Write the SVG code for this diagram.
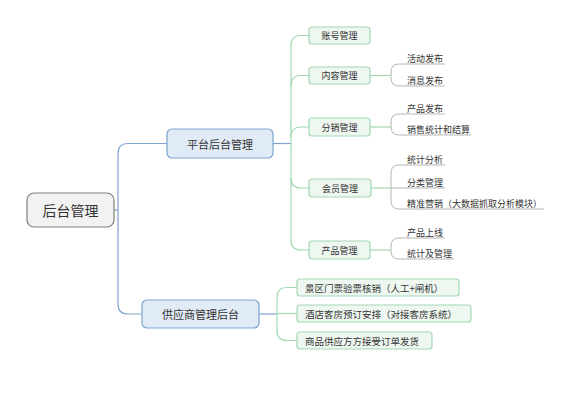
<svg xmlns="http://www.w3.org/2000/svg" width="563" height="398" viewBox="0 0 563 398">
<style>
text{font-family:"Noto Sans CJK SC","Liberation Sans",sans-serif;fill:#333;dominant-baseline:central}
.c{text-anchor:middle}
.root{fill:#f2f2f2;stroke:#7f7f7f;stroke-width:1.2}
.l1{fill:#e1ebf6;stroke:#7ea3cf;stroke-width:1.2}
.l2{fill:#eef7f0;stroke:#a3d8b3;stroke-width:1.2}
.cb{fill:none;stroke:#7ea3cf;stroke-width:1.2}
.cg{fill:none;stroke:#a3d8b3;stroke-width:1.2}
.cy{fill:none;stroke:#b5b5b5;stroke-width:1}
.t14{font-size:14px}.t11{font-size:11px}.t9{font-size:9px}.t95{font-size:9.5px}
</style>
<rect width="563" height="398" fill="#fff"/>
<g id="connectors">
<path class="cb" d="M114,210H118"/>
<path class="cb" d="M167,143.5H128Q118,143.5 118,153.5V304Q118,314 128,314H142"/>
<path class="cb" d="M273,143.5H291"/>
<path class="cb" d="M259,314H277"/>
<path class="cg" d="M309,35.5H301Q291,35.5 291,45.5V240Q291,250 301,250H309"/>
<path class="cg" d="M309,75.5H301Q291,75.5 291,85.5"/>
<path class="cg" d="M309,127H301Q291,127 291,137"/>
<path class="cg" d="M309,188H301Q291,188 291,178"/>
<path class="cg" d="M297,287.5H287Q277,287.5 277,297.5V330.5Q277,340.5 287,340.5H297"/>
<path class="cg" d="M277,313.5H297"/>
<path class="cg" d="M370,75.5H391"/>
<path class="cg" d="M370,127H391"/>
<path class="cg" d="M371,188H391"/>
<path class="cg" d="M370,250H391"/>
<path class="cy" d="M391,75.5V72Q391,64 399,64H445M391,75.5V78Q391,86 399,86H445"/>
<path class="cy" d="M391,127V122Q391,114 399,114H445M391,127V127Q391,135 399,135H471"/>
<path class="cy" d="M391,188V173Q391,165 399,165H445M391,188H445M391,188V201Q391,209 399,209H544"/>
<path class="cy" d="M391,250V246Q391,238 399,238H445M391,250V251Q391,259 399,259H454"/>
</g>
<g id="root"><rect class="root" x="27" y="193" width="87" height="34" rx="7"/><text class="c t14" x="70.5" y="210">后台管理</text></g>
<g id="platform"><rect class="l1" x="167" y="129" width="106" height="29" rx="5"/><text class="c t11" x="220" y="143.5">平台后台管理</text></g>
<g id="supplier"><rect class="l1" x="142" y="300" width="117" height="28" rx="5"/><text class="c t11" x="200.5" y="314">供应商管理后台</text></g>
<g id="account"><rect class="l2" x="309" y="27" width="61" height="17" rx="3"/><text class="c t9" x="339.5" y="35.5">账号管理</text></g>
<g id="content"><rect class="l2" x="309" y="67" width="61" height="17" rx="3"/><text class="c t9" x="339.5" y="75.5">内容管理</text></g>
<g id="distribution"><rect class="l2" x="309" y="118" width="61" height="18" rx="3"/><text class="c t9" x="339.5" y="127">分销管理</text></g>
<g id="member"><rect class="l2" x="309" y="179" width="62" height="18" rx="3"/><text class="c t9" x="340" y="188">会员管理</text></g>
<g id="product"><rect class="l2" x="309" y="241" width="61" height="18" rx="3"/><text class="c t9" x="339.5" y="250">产品管理</text></g>
<g id="leaf-activity"><text class="t9" x="407" y="58">活动发布</text></g>
<g id="leaf-message"><text class="t9" x="407" y="80">消息发布</text></g>
<g id="leaf-prodpub"><text class="t9" x="407" y="108">产品发布</text></g>
<g id="leaf-sales"><text class="t9" x="407" y="129">销售统计和结算</text></g>
<g id="leaf-stat"><text class="t9" x="407" y="159">统计分析</text></g>
<g id="leaf-category"><text class="t9" x="407" y="182">分类管理</text></g>
<g id="leaf-precise"><text class="t9" x="407" y="203">精准营销（大数据抓取分析模块）</text></g>
<g id="leaf-online"><text class="t9" x="407" y="232">产品上线</text></g>
<g id="leaf-statmgmt"><text class="t9" x="407" y="253">统计及管理</text></g>
<g id="ticket"><rect class="l2" x="297" y="279" width="162" height="17" rx="3"/><text class="t95" x="305" y="287.5">景区门票验票核销（人工+闸机）</text></g>
<g id="hotel"><rect class="l2" x="297" y="305" width="174" height="17" rx="3"/><text class="t95" x="305" y="313.5">酒店客房预订安排（对接客房系统）</text></g>
<g id="goods"><rect class="l2" x="297" y="332" width="135" height="17" rx="3"/><text class="t95" x="305" y="340.5">商品供应方方接受订单发货</text></g>
</svg>
